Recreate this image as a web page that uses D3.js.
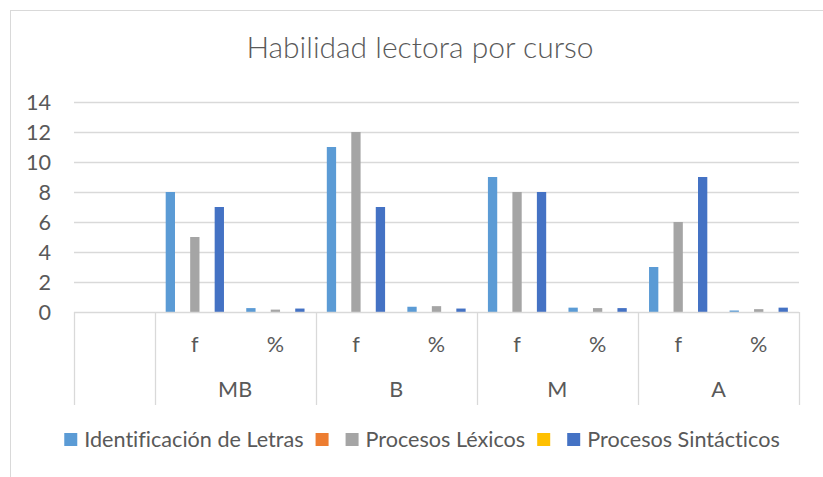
<!DOCTYPE html>
<html>
<head>
<meta charset="utf-8">
<script src="https://cdn.jsdelivr.net/npm/d3@7"></script>
<style>
  html, body { margin: 0; padding: 0; background: #fff; }
  svg text { font-family: "Lato", "Open Sans", sans-serif; fill: #595959; font-variant-ligatures: none; }
</style>
</head>
<body>
<svg id="svg" width="823" height="477"></svg>
<script>
// chart data
const title = "Habilidad lectora por curso";
const categoryGroups = ["", "MB", "MB", "B", "B", "M", "M", "A", "A"];
const categoryLabels = ["", "f", "%", "f", "%", "f", "%", "f", "%"];
const seriesNames = ["Identificación de Letras", "", "Procesos Léxicos", "", "Procesos Sintácticos"];
const seriesColors = ["#5B9BD5", "#ED7D31", "#A5A5A5", "#FFC000", "#4472C4"];
const identificacion = [null, 8, 0.26, 11, 0.35, 9, 0.29, 3, 0.10];
const blankA = [null, null, null, null, null, null, null, null, null];
const lexicos = [null, 5, 0.16, 12, 0.39, 8, 0.26, 6, 0.19];
const blankB = [null, null, null, null, null, null, null, null, null];
const sintacticos = [null, 7, 0.23, 7, 0.23, 8, 0.26, 9, 0.29];
const yTicks = [0, 2, 4, 6, 8, 10, 12, 14];

const seriesValues = [identificacion, blankA, lexicos, blankB, sintacticos];

const svg = d3.select("#svg");
const gridColor = "#d9d9d9";
const center = 422;
const labelSize = "21.6px";
const labelWeight = 400;

// chart border (right/bottom sides fall outside the picture)
svg.append("rect")
    .attr("x", 10.5).attr("y", 10.5)
    .attr("width", 830).attr("height", 480)
    .attr("fill", "none").attr("stroke", gridColor);

svg.append("text")
    .attr("x", 420).attr("y", 58)
    .attr("text-anchor", "middle")
    .style("font-size", "30px").style("font-weight", 300)
    .text(title);

const plot = { left: 74, right: 799, top: 102, bottom: 312 };

const x0 = d3.scaleBand()
    .domain(d3.range(categoryLabels.length))
    .range([plot.left, plot.right]);
const x1 = d3.scaleBand()
    .domain(d3.range(seriesNames.length))
    .range([0, x0.bandwidth()])
    .paddingInner(0.24)
    .paddingOuter(0.91);
const y = d3.scaleLinear().domain([0, 14]).range([plot.bottom, plot.top]);

// gridlines
svg.append("g")
    .selectAll("line")
    .data(yTicks.filter(d => d > 0))
    .join("line")
    .attr("x1", plot.left).attr("x2", plot.right)
    .attr("y1", d => Math.round(y(d)) + 0.5).attr("y2", d => Math.round(y(d)) + 0.5)
    .attr("stroke", gridColor).attr("stroke-width", 1.3);

// y labels
svg.append("g")
    .selectAll("text")
    .data(yTicks)
    .join("text")
    .attr("x", 51).attr("y", d => y(d) + 7.5)
    .attr("text-anchor", "end")
    .style("font-size", labelSize).style("font-weight", labelWeight)
    .text(d => d);

// bars
seriesValues.forEach((vals, s) => {
    svg.append("g")
        .selectAll("rect")
        .data(vals.map((v, i) => ({ v, i })).filter(d => d.v !== null))
        .join("rect")
        .attr("x", d => x0(d.i) + x1(s))
        .attr("width", x1.bandwidth())
        .attr("y", d => y(d.v))
        .attr("height", d => y(0) - y(d.v))
        .attr("fill", seriesColors[s]);
});

// category axis (two levels)
const axisBottom = 405;
const ax = svg.append("g").attr("stroke", gridColor).attr("stroke-width", 1.3);
ax.append("line")
    .attr("x1", plot.left).attr("x2", plot.right)
    .attr("y1", plot.bottom + 0.5).attr("y2", plot.bottom + 0.5);
const boundaries = [0];
categoryGroups.forEach((g, i) => { if (i > 0 && g !== categoryGroups[i - 1]) boundaries.push(i); });
boundaries.push(categoryGroups.length);
ax.selectAll("line.sep")
    .data(boundaries)
    .join("line")
    .attr("class", "sep")
    .attr("x1", i => Math.round(i < categoryGroups.length ? x0(i) : plot.right) + 0.5)
    .attr("x2", i => Math.round(i < categoryGroups.length ? x0(i) : plot.right) + 0.5)
    .attr("y1", plot.bottom).attr("y2", axisBottom);

svg.append("g")
    .selectAll("text")
    .data(categoryLabels)
    .join("text")
    .attr("x", (d, i) => x0(i) + x0.bandwidth() / 2)
    .attr("y", 352)
    .attr("text-anchor", "middle")
    .style("font-size", labelSize).style("font-weight", labelWeight)
    .text(d => d);

const groupNames = Array.from(new Set(categoryGroups.filter(g => g !== "")));
svg.append("g")
    .selectAll("text")
    .data(groupNames)
    .join("text")
    .attr("x", g => {
        const idx = categoryGroups.map((c, i) => c === g ? i : -1).filter(i => i >= 0);
        return (x0(idx[0]) + x0(idx[idx.length - 1]) + x0.bandwidth()) / 2;
    })
    .attr("y", 397)
    .attr("text-anchor", "middle")
    .style("font-size", labelSize).style("font-weight", labelWeight)
    .text(g => g);

// legend
const legend = svg.append("g");
let lx = 0;
seriesNames.forEach((name, s) => {
    const item = legend.append("g").attr("transform", `translate(${lx},0)`);
    item.append("rect")
        .attr("x", 0).attr("y", 433)
        .attr("width", 13).attr("height", 13)
        .attr("fill", seriesColors[s]);
    const t = item.append("text")
        .attr("x", 20).attr("y", 447)
        .style("font-size", labelSize).style("font-weight", labelWeight)
        .text(name);
    const w = name ? t.node().getComputedTextLength() : 0;
    lx += 20 + w + (name ? 12 : 10);
});
const legendWidth = lx - 12;
legend.attr("transform", `translate(${center - legendWidth / 2},0)`);
</script>
</body>
</html>
